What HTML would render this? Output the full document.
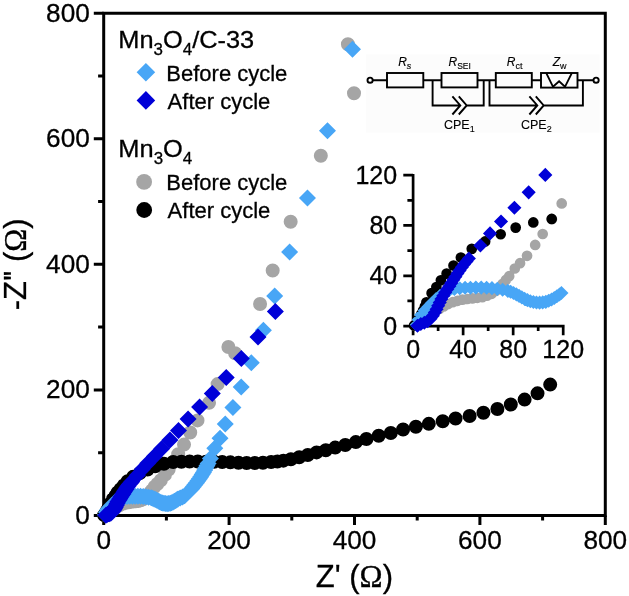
<!DOCTYPE html>
<html><head><meta charset="utf-8"><style>
html,body{margin:0;padding:0;background:#fff;width:629px;height:596px;overflow:hidden}
svg{display:block;will-change:transform}
</style></head><body>
<svg width="629" height="596" viewBox="0 0 629 596"><rect x="366" y="54.5" width="233.5" height="78.2" fill="#fcfcfc"/>
<g stroke="#000" stroke-width="3" fill="none" stroke-linecap="butt">
<path d="M103.7 515.4H605.3V13.3H103.7Z" stroke-linejoin="miter"/>
<path d="M93.8 515.4H103.7M103.7 515.4V525.1M98.1 452.64H103.7M166.4 515.4V520.4M93.8 389.88H103.7M229.1 515.4V525.1M98.1 327.12H103.7M291.8 515.4V520.4M93.8 264.36H103.7M354.5 515.4V525.1M98.1 201.6H103.7M417.2 515.4V520.4M93.8 138.84H103.7M479.9 515.4V525.1M98.1 76.08H103.7M542.6 515.4V520.4M93.8 13.32H103.7M605.3 515.4V525.1"/>
</g>
<g font-family="Liberation Sans, sans-serif" stroke="#000" stroke-width="0.3" font-size="26.2" fill="#000">
<text x="89.8" y="523.9" text-anchor="end">0</text>
<text x="103.7" y="549.1" text-anchor="middle">0</text>
<text x="89.8" y="398.38" text-anchor="end">200</text>
<text x="229.1" y="549.1" text-anchor="middle">200</text>
<text x="89.8" y="272.86" text-anchor="end">400</text>
<text x="354.5" y="549.1" text-anchor="middle">400</text>
<text x="89.8" y="147.34" text-anchor="end">600</text>
<text x="479.9" y="549.1" text-anchor="middle">600</text>
<text x="89.8" y="21.82" text-anchor="end">800</text>
<text x="605.3" y="549.1" text-anchor="middle">800</text>
</g>
<text font-family="Liberation Sans, sans-serif" stroke="#000" stroke-width="0.3" font-size="31" x="354.4" y="586.5" text-anchor="middle">Z' (<tspan font-family="Liberation Serif, serif">&#937;</tspan>)</text>
<text font-family="Liberation Sans, sans-serif" stroke="#000" stroke-width="0.3" font-size="31" transform="translate(25.6 264.3) rotate(-90)" text-anchor="middle">-Z'<tspan dx="-1.5">'</tspan> (<tspan font-family="Liberation Serif, serif">&#937;</tspan>)</text>
<path fill="#a5a5a5" d="M97.33 515.09a7 7 0 1 0 14 0a7 7 0 1 0 -14 0zM99.57 513.96a7 7 0 1 0 14 0a7 7 0 1 0 -14 0zM101.73 512.69a7 7 0 1 0 14 0a7 7 0 1 0 -14 0zM103.8 511.28a7 7 0 1 0 14 0a7 7 0 1 0 -14 0zM105.76 509.71a7 7 0 1 0 14 0a7 7 0 1 0 -14 0zM107.8 508.25a7 7 0 1 0 14 0a7 7 0 1 0 -14 0zM109.88 506.86a7 7 0 1 0 14 0a7 7 0 1 0 -14 0zM112.04 505.58a7 7 0 1 0 14 0a7 7 0 1 0 -14 0zM114.24 504.39a7 7 0 1 0 14 0a7 7 0 1 0 -14 0zM116.58 503.48a7 7 0 1 0 14 0a7 7 0 1 0 -14 0zM118.98 502.77a7 7 0 1 0 14 0a7 7 0 1 0 -14 0zM121.42 502.19a7 7 0 1 0 14 0a7 7 0 1 0 -14 0zM123.91 501.88a7 7 0 1 0 14 0a7 7 0 1 0 -14 0zM126.4 501.57a7 7 0 1 0 14 0a7 7 0 1 0 -14 0zM128.89 501.29a7 7 0 1 0 14 0a7 7 0 1 0 -14 0zM131.38 501.01a7 7 0 1 0 14 0a7 7 0 1 0 -14 0zM133.76 500.23a7 7 0 1 0 14 0a7 7 0 1 0 -14 0zM136.08 499.28a7 7 0 1 0 14 0a7 7 0 1 0 -14 0zM138.14 497.93a7 7 0 1 0 14 0a7 7 0 1 0 -14 0zM139.95 496.19a7 7 0 1 0 14 0a7 7 0 1 0 -14 0zM141.6 494.3a7 7 0 1 0 14 0a7 7 0 1 0 -14 0zM143.21 492.38a7 7 0 1 0 14 0a7 7 0 1 0 -14 0zM144.86 490.49a7 7 0 1 0 14 0a7 7 0 1 0 -14 0zM147.68 486.66a7 7 0 1 0 14 0a7 7 0 1 0 -14 0zM150.31 484.02a7 7 0 1 0 14 0a7 7 0 1 0 -14 0zM153.82 480.32a7 7 0 1 0 14 0a7 7 0 1 0 -14 0zM157.9 474.92a7 7 0 1 0 14 0a7 7 0 1 0 -14 0zM161.66 469.46a7 7 0 1 0 14 0a7 7 0 1 0 -14 0zM166.3 462.05a7 7 0 1 0 14 0a7 7 0 1 0 -14 0zM171.19 454.21a7 7 0 1 0 14 0a7 7 0 1 0 -14 0zM177.02 444.61a7 7 0 1 0 14 0a7 7 0 1 0 -14 0zM183.23 432.49a7 7 0 1 0 14 0a7 7 0 1 0 -14 0zM190.5 420.38a7 7 0 1 0 14 0a7 7 0 1 0 -14 0zM202.04 402.87a7 7 0 1 0 14 0a7 7 0 1 0 -14 0zM210.63 384.11a7 7 0 1 0 14 0a7 7 0 1 0 -14 0zM228.12 353.23a7 7 0 1 0 14 0a7 7 0 1 0 -14 0zM221.41 347.01a7 7 0 1 0 14 0a7 7 0 1 0 -14 0zM253.07 304.02a7 7 0 1 0 14 0a7 7 0 1 0 -14 0zM265.68 270.51a7 7 0 1 0 14 0a7 7 0 1 0 -14 0zM283.67 221.81a7 7 0 1 0 14 0a7 7 0 1 0 -14 0zM313.83 155.79a7 7 0 1 0 14 0a7 7 0 1 0 -14 0zM347 93.21a7 7 0 1 0 14 0a7 7 0 1 0 -14 0zM340.92 44.2a7 7 0 1 0 14 0a7 7 0 1 0 -14 0z"/>
<path fill="#000000" d="M97.2 515.09a7 7 0 1 0 14 0a7 7 0 1 0 -14 0zM98.63 513.42a7 7 0 1 0 14 0a7 7 0 1 0 -14 0zM99.7 511.5a7 7 0 1 0 14 0a7 7 0 1 0 -14 0zM100.72 509.56a7 7 0 1 0 14 0a7 7 0 1 0 -14 0zM101.7 507.59a7 7 0 1 0 14 0a7 7 0 1 0 -14 0zM102.59 505.59a7 7 0 1 0 14 0a7 7 0 1 0 -14 0zM103.36 503.53a7 7 0 1 0 14 0a7 7 0 1 0 -14 0zM105.98 498.96a7 7 0 1 0 14 0a7 7 0 1 0 -14 0zM108.36 495.88a7 7 0 1 0 14 0a7 7 0 1 0 -14 0zM110.62 492.56a7 7 0 1 0 14 0a7 7 0 1 0 -14 0zM113.5 489.23a7 7 0 1 0 14 0a7 7 0 1 0 -14 0zM116.95 485.21a7 7 0 1 0 14 0a7 7 0 1 0 -14 0zM120.65 481.2a7 7 0 1 0 14 0a7 7 0 1 0 -14 0zM126.11 476.87a7 7 0 1 0 14 0a7 7 0 1 0 -14 0zM132.82 473.16a7 7 0 1 0 14 0a7 7 0 1 0 -14 0zM140.59 469.59a7 7 0 1 0 14 0a7 7 0 1 0 -14 0zM148.11 466.26a7 7 0 1 0 14 0a7 7 0 1 0 -14 0zM156.95 463.69a7 7 0 1 0 14 0a7 7 0 1 0 -14 0zM166.17 461.93a7 7 0 1 0 14 0a7 7 0 1 0 -14 0zM174.45 461.74a7 7 0 1 0 14 0a7 7 0 1 0 -14 0zM182.6 461.43a7 7 0 1 0 14 0a7 7 0 1 0 -14 0zM190.75 461.43a7 7 0 1 0 14 0a7 7 0 1 0 -14 0zM198.9 461.74a7 7 0 1 0 14 0a7 7 0 1 0 -14 0zM207.05 461.74a7 7 0 1 0 14 0a7 7 0 1 0 -14 0zM215.2 462.05a7 7 0 1 0 14 0a7 7 0 1 0 -14 0zM223.35 462.37a7 7 0 1 0 14 0a7 7 0 1 0 -14 0zM231.5 462.68a7 7 0 1 0 14 0a7 7 0 1 0 -14 0zM239.66 463a7 7 0 1 0 14 0a7 7 0 1 0 -14 0zM247.81 463a7 7 0 1 0 14 0a7 7 0 1 0 -14 0zM255.96 462.68a7 7 0 1 0 14 0a7 7 0 1 0 -14 0zM264.11 462.05a7 7 0 1 0 14 0a7 7 0 1 0 -14 0zM270.38 461.43a7 7 0 1 0 14 0a7 7 0 1 0 -14 0zM276.4 460.67a7 7 0 1 0 14 0a7 7 0 1 0 -14 0zM283.92 459.29a7 7 0 1 0 14 0a7 7 0 1 0 -14 0zM292.2 457.28a7 7 0 1 0 14 0a7 7 0 1 0 -14 0zM300.79 455.02a7 7 0 1 0 14 0a7 7 0 1 0 -14 0zM309.63 452.39a7 7 0 1 0 14 0a7 7 0 1 0 -14 0zM318.78 450.19a7 7 0 1 0 14 0a7 7 0 1 0 -14 0zM328.19 447.62a7 7 0 1 0 14 0a7 7 0 1 0 -14 0zM338.28 444.98a7 7 0 1 0 14 0a7 7 0 1 0 -14 0zM348.82 442.1a7 7 0 1 0 14 0a7 7 0 1 0 -14 0zM359.41 439.02a7 7 0 1 0 14 0a7 7 0 1 0 -14 0zM371.7 435.82a7 7 0 1 0 14 0a7 7 0 1 0 -14 0zM383.8 433a7 7 0 1 0 14 0a7 7 0 1 0 -14 0zM396.09 429.48a7 7 0 1 0 14 0a7 7 0 1 0 -14 0zM408.88 426.72a7 7 0 1 0 14 0a7 7 0 1 0 -14 0zM421.8 423.83a7 7 0 1 0 14 0a7 7 0 1 0 -14 0zM435.72 421.2a7 7 0 1 0 14 0a7 7 0 1 0 -14 0zM448.57 418.5a7 7 0 1 0 14 0a7 7 0 1 0 -14 0zM462.62 415.93a7 7 0 1 0 14 0a7 7 0 1 0 -14 0zM476.41 412.72a7 7 0 1 0 14 0a7 7 0 1 0 -14 0zM490.39 409.02a7 7 0 1 0 14 0a7 7 0 1 0 -14 0zM503.81 404.5a7 7 0 1 0 14 0a7 7 0 1 0 -14 0zM517.61 399.61a7 7 0 1 0 14 0a7 7 0 1 0 -14 0zM530.52 393.33a7 7 0 1 0 14 0a7 7 0 1 0 -14 0zM543.19 384.61a7 7 0 1 0 14 0a7 7 0 1 0 -14 0z"/>
<path fill="#48a6f6" d="M97.08 514.77l8.5 -8.5l8.5 8.5l-8.5 8.5zM97.99 512.23l8.5 -8.5l8.5 8.5l-8.5 8.5zM99.19 509.82l8.5 -8.5l8.5 8.5l-8.5 8.5zM100.97 507.79l8.5 -8.5l8.5 8.5l-8.5 8.5zM102.81 505.82l8.5 -8.5l8.5 8.5l-8.5 8.5zM104.69 503.89l8.5 -8.5l8.5 8.5l-8.5 8.5zM106.63 502.02l8.5 -8.5l8.5 8.5l-8.5 8.5zM108.71 500.3l8.5 -8.5l8.5 8.5l-8.5 8.5zM110.91 498.74l8.5 -8.5l8.5 8.5l-8.5 8.5zM113.3 497.51l8.5 -8.5l8.5 8.5l-8.5 8.5zM115.9 496.83l8.5 -8.5l8.5 8.5l-8.5 8.5zM118.57 496.5l8.5 -8.5l8.5 8.5l-8.5 8.5zM121.26 496.28l8.5 -8.5l8.5 8.5l-8.5 8.5zM123.95 496.26l8.5 -8.5l8.5 8.5l-8.5 8.5zM126.65 496.2l8.5 -8.5l8.5 8.5l-8.5 8.5zM129.35 496.2l8.5 -8.5l8.5 8.5l-8.5 8.5zM132.04 496.28l8.5 -8.5l8.5 8.5l-8.5 8.5zM134.73 496.47l8.5 -8.5l8.5 8.5l-8.5 8.5zM137.4 496.82l8.5 -8.5l8.5 8.5l-8.5 8.5zM140.06 497.24l8.5 -8.5l8.5 8.5l-8.5 8.5zM142.69 497.84l8.5 -8.5l8.5 8.5l-8.5 8.5zM144.11 498.27l8.5 -8.5l8.5 8.5l-8.5 8.5zM145.54 498.91l8.5 -8.5l8.5 8.5l-8.5 8.5zM146.95 499.58l8.5 -8.5l8.5 8.5l-8.5 8.5zM148.32 500.34l8.5 -8.5l8.5 8.5l-8.5 8.5zM149.7 501.08l8.5 -8.5l8.5 8.5l-8.5 8.5zM151.09 501.81l8.5 -8.5l8.5 8.5l-8.5 8.5zM152.52 502.45l8.5 -8.5l8.5 8.5l-8.5 8.5zM153.98 503.03l8.5 -8.5l8.5 8.5l-8.5 8.5zM155.5 503.37l8.5 -8.5l8.5 8.5l-8.5 8.5zM157.05 503.62l8.5 -8.5l8.5 8.5l-8.5 8.5zM158.61 503.7l8.5 -8.5l8.5 8.5l-8.5 8.5zM160.17 503.57l8.5 -8.5l8.5 8.5l-8.5 8.5zM161.72 503.33l8.5 -8.5l8.5 8.5l-8.5 8.5zM163.17 502.75l8.5 -8.5l8.5 8.5l-8.5 8.5zM164.6 502.11l8.5 -8.5l8.5 8.5l-8.5 8.5zM165.98 501.35l8.5 -8.5l8.5 8.5l-8.5 8.5zM167.3 500.52l8.5 -8.5l8.5 8.5l-8.5 8.5zM168.57 499.6l8.5 -8.5l8.5 8.5l-8.5 8.5zM169.56 498.89l8.5 -8.5l8.5 8.5l-8.5 8.5zM171.69 497.95l8.5 -8.5l8.5 8.5l-8.5 8.5zM174.02 497.02l8.5 -8.5l8.5 8.5l-8.5 8.5zM176.14 495.77l8.5 -8.5l8.5 8.5l-8.5 8.5zM177.93 494.01l8.5 -8.5l8.5 8.5l-8.5 8.5zM179.72 492.25l8.5 -8.5l8.5 8.5l-8.5 8.5zM181.51 490.49l8.5 -8.5l8.5 8.5l-8.5 8.5zM183.2 488.64l8.5 -8.5l8.5 8.5l-8.5 8.5zM184.79 486.7l8.5 -8.5l8.5 8.5l-8.5 8.5zM186.38 484.76l8.5 -8.5l8.5 8.5l-8.5 8.5zM187.97 482.81l8.5 -8.5l8.5 8.5l-8.5 8.5zM189.45 480.79l8.5 -8.5l8.5 8.5l-8.5 8.5zM190.85 478.71l8.5 -8.5l8.5 8.5l-8.5 8.5zM192.26 476.63l8.5 -8.5l8.5 8.5l-8.5 8.5zM193.66 474.55l8.5 -8.5l8.5 8.5l-8.5 8.5zM194.94 472.39l8.5 -8.5l8.5 8.5l-8.5 8.5zM196.11 470.17l8.5 -8.5l8.5 8.5l-8.5 8.5zM197.28 467.95l8.5 -8.5l8.5 8.5l-8.5 8.5zM198.45 465.73l8.5 -8.5l8.5 8.5l-8.5 8.5zM199.62 463.51l8.5 -8.5l8.5 8.5l-8.5 8.5zM201.92 458.41l8.5 -8.5l8.5 8.5l-8.5 8.5zM206.3 448.31l8.5 -8.5l8.5 8.5l-8.5 8.5zM211.51 438.21l8.5 -8.5l8.5 8.5l-8.5 8.5zM216.78 424.02l8.5 -8.5l8.5 8.5l-8.5 8.5zM224.42 407.52l8.5 -8.5l8.5 8.5l-8.5 8.5zM232.7 386.99l8.5 -8.5l8.5 8.5l-8.5 8.5zM242.8 362.7l8.5 -8.5l8.5 8.5l-8.5 8.5zM254.9 330.2l8.5 -8.5l8.5 8.5l-8.5 8.5zM266.18 295.99l8.5 -8.5l8.5 8.5l-8.5 8.5zM281.11 252l8.5 -8.5l8.5 8.5l-8.5 8.5zM298.98 197.9l8.5 -8.5l8.5 8.5l-8.5 8.5zM318.98 130.68l8.5 -8.5l8.5 8.5l-8.5 8.5zM343.99 49.28l8.5 -8.5l8.5 8.5l-8.5 8.5z"/>
<path fill="#0000d8" d="M97.39 515.21l8.5 -8.5l8.5 8.5l-8.5 8.5zM99.06 514.36l8.5 -8.5l8.5 8.5l-8.5 8.5zM100.83 513.73l8.5 -8.5l8.5 8.5l-8.5 8.5zM102.5 512.9l8.5 -8.5l8.5 8.5l-8.5 8.5zM103.92 511.7l8.5 -8.5l8.5 8.5l-8.5 8.5zM105.09 510.23l8.5 -8.5l8.5 8.5l-8.5 8.5zM106.09 508.63l8.5 -8.5l8.5 8.5l-8.5 8.5zM106.97 506.97l8.5 -8.5l8.5 8.5l-8.5 8.5zM107.76 505.26l8.5 -8.5l8.5 8.5l-8.5 8.5zM108.57 503.57l8.5 -8.5l8.5 8.5l-8.5 8.5zM109.39 501.87l8.5 -8.5l8.5 8.5l-8.5 8.5zM110.33 500.24l8.5 -8.5l8.5 8.5l-8.5 8.5zM111.3 498.63l8.5 -8.5l8.5 8.5l-8.5 8.5zM112.33 497.05l8.5 -8.5l8.5 8.5l-8.5 8.5zM113.37 495.48l8.5 -8.5l8.5 8.5l-8.5 8.5zM114.39 493.9l8.5 -8.5l8.5 8.5l-8.5 8.5zM115.4 492.31l8.5 -8.5l8.5 8.5l-8.5 8.5zM116.42 490.73l8.5 -8.5l8.5 8.5l-8.5 8.5zM117.43 489.14l8.5 -8.5l8.5 8.5l-8.5 8.5zM118.51 487.6l8.5 -8.5l8.5 8.5l-8.5 8.5zM119.65 486.1l8.5 -8.5l8.5 8.5l-8.5 8.5zM120.78 484.6l8.5 -8.5l8.5 8.5l-8.5 8.5zM121.96 483.13l8.5 -8.5l8.5 8.5l-8.5 8.5zM123.16 481.69l8.5 -8.5l8.5 8.5l-8.5 8.5zM128.93 475.17l8.5 -8.5l8.5 8.5l-8.5 8.5zM133.76 469.15l8.5 -8.5l8.5 8.5l-8.5 8.5zM139.28 463.18l8.5 -8.5l8.5 8.5l-8.5 8.5zM145.99 456.34l8.5 -8.5l8.5 8.5l-8.5 8.5zM153.13 448.69l8.5 -8.5l8.5 8.5l-8.5 8.5zM161.47 439.96l8.5 -8.5l8.5 8.5l-8.5 8.5zM170 430.42l8.5 -8.5l8.5 8.5l-8.5 8.5zM179.59 419l8.5 -8.5l8.5 8.5l-8.5 8.5zM191.07 406.89l8.5 -8.5l8.5 8.5l-8.5 8.5zM203.8 393.52l8.5 -8.5l8.5 8.5l-8.5 8.5zM217.72 377.39l8.5 -8.5l8.5 8.5l-8.5 8.5zM232.83 358.5l8.5 -8.5l8.5 8.5l-8.5 8.5zM249.5 336.97l8.5 -8.5l8.5 8.5l-8.5 8.5zM266.87 311.49l8.5 -8.5l8.5 8.5l-8.5 8.5z"/>
<text font-family="Liberation Sans, sans-serif" stroke="#000" stroke-width="0.3" font-size="24" transform="translate(118.3 47.9) scale(1.058 1)">Mn<tspan font-size="16" dy="6.7">3</tspan><tspan dy="-6.7">O</tspan><tspan font-size="16" dy="6.7">4</tspan><tspan dy="-6.7">/C-33</tspan></text>
<path fill="#48a6f6" d="M136.6 72.3l9.3 -9.3l9.3 9.3l-9.3 9.3z"/>
<path fill="#0000d8" d="M136.6 100.4l9.3 -9.3l9.3 9.3l-9.3 9.3z"/>
<text font-family="Liberation Sans, sans-serif" stroke="#000" stroke-width="0.3" font-size="22" x="166.3" y="81.3">Before cycle</text>
<text font-family="Liberation Sans, sans-serif" stroke="#000" stroke-width="0.3" font-size="22" x="167.6" y="109.1">After cycle</text>
<text font-family="Liberation Sans, sans-serif" stroke="#000" stroke-width="0.3" font-size="24" transform="translate(118.3 157.3) scale(1.06 1)">Mn<tspan font-size="16" dy="6.7">3</tspan><tspan dy="-6.7">O</tspan><tspan font-size="16" dy="6.7">4</tspan></text>
<circle cx="144.1" cy="181.9" r="7.9" fill="#a5a5a5"/>
<circle cx="144.2" cy="210" r="7.9" fill="#000000"/>
<text font-family="Liberation Sans, sans-serif" stroke="#000" stroke-width="0.3" font-size="22" x="166.3" y="190.3">Before cycle</text>
<text font-family="Liberation Sans, sans-serif" stroke="#000" stroke-width="0.3" font-size="22" x="167.6" y="218.3">After cycle</text>
<g stroke="#000" stroke-width="1.9" fill="none">
<circle cx="370.1" cy="80.2" r="2.6" fill="#fff"/>
<circle cx="596.1" cy="80.2" r="2.6" fill="#fff"/>
<path d="M372.7 80.2H387M423.3 80.2H441.5M477.5 80.2H495.8M531.8 80.2H541M577.5 80.2H593.5"/>
<rect x="387" y="73" width="36.3" height="14.4"/>
<rect x="441.5" y="73" width="36" height="14.4"/>
<rect x="495.8" y="73" width="36" height="14.4"/>
<rect x="541" y="73" width="36.5" height="14.6"/>
<path d="M546.3 73.2L553 86.8L559.1 81.2L565 86.8L571.8 73.2"/>
<path d="M432.6 80.2V105.5H460.3M466.7 105.5H483.7V80.2M452.4 96.4L460.3 105.5L452.4 114.5M458.8 96.4L466.7 105.5L458.8 114.5"/>
<path d="M489.5 80.2V105.5H537.3M543.7 105.5H582.9V80.2M529.4 96.4L537.3 105.5L529.4 114.5M535.8 96.4L543.7 105.5L535.8 114.5"/>
</g>
<g font-family="Liberation Sans, sans-serif" stroke="#000" stroke-width="0.12" fill="#000">
<text x="398.2" y="65.8" font-size="12" font-style="italic">R<tspan font-size="9" dy="3">s</tspan></text>
<text x="448.5" y="65.8" font-size="12" font-style="italic">R<tspan font-size="8.5" dy="3" font-style="normal">SEI</tspan></text>
<text x="506.8" y="65.8" font-size="12" font-style="italic">R<tspan font-size="9" dy="3" font-style="normal">ct</tspan></text>
<text x="552.7" y="65.8" font-size="12" font-style="italic">Z<tspan font-size="9" dy="3" font-style="normal">w</tspan></text>
<text x="444" y="128.6" font-size="12.5">CPE<tspan font-size="9" dy="3">1</tspan></text>
<text x="521" y="128.6" font-size="12.5">CPE<tspan font-size="9" dy="3">2</tspan></text>
</g>
<g stroke="#000" stroke-width="2.7" fill="none">
<path d="M413.1 174V326.1H564.6M403.3 326.1H413.1M413.1 326.1V335.2M407.4 300.94H413.1M438.12 326.1V331M403.3 275.78H413.1M463.13 326.1V335.2M407.4 250.62H413.1M488.15 326.1V331M403.3 225.46H413.1M513.16 326.1V335.2M407.4 200.3H413.1M538.18 326.1V331M403.3 175.14H413.1M563.2 326.1V335.2"/>
</g>
<g font-family="Liberation Sans, sans-serif" stroke="#000" stroke-width="0.3" font-size="25" fill="#000">
<text x="397.2" y="334.5" text-anchor="end">0</text>
<text x="413.1" y="358.2" text-anchor="middle">0</text>
<text x="397.2" y="284.18" text-anchor="end">40</text>
<text x="463.13" y="358.2" text-anchor="middle">40</text>
<text x="397.2" y="233.86" text-anchor="end">80</text>
<text x="513.16" y="358.2" text-anchor="middle">80</text>
<text x="397.2" y="183.54" text-anchor="end">120</text>
<text x="563.2" y="358.2" text-anchor="middle">120</text>
</g>
<path fill="#a5a5a5" d="M409 325.47a5.35 5.35 0 1 0 10.7 0a5.35 5.35 0 1 0 -10.7 0zM413.48 323.22a5.35 5.35 0 1 0 10.7 0a5.35 5.35 0 1 0 -10.7 0zM417.79 320.67a5.35 5.35 0 1 0 10.7 0a5.35 5.35 0 1 0 -10.7 0zM421.92 317.85a5.35 5.35 0 1 0 10.7 0a5.35 5.35 0 1 0 -10.7 0zM425.82 314.7a5.35 5.35 0 1 0 10.7 0a5.35 5.35 0 1 0 -10.7 0zM429.89 311.77a5.35 5.35 0 1 0 10.7 0a5.35 5.35 0 1 0 -10.7 0zM434.05 308.98a5.35 5.35 0 1 0 10.7 0a5.35 5.35 0 1 0 -10.7 0zM438.35 306.42a5.35 5.35 0 1 0 10.7 0a5.35 5.35 0 1 0 -10.7 0zM442.74 304.03a5.35 5.35 0 1 0 10.7 0a5.35 5.35 0 1 0 -10.7 0zM447.41 302.2a5.35 5.35 0 1 0 10.7 0a5.35 5.35 0 1 0 -10.7 0zM452.2 300.79a5.35 5.35 0 1 0 10.7 0a5.35 5.35 0 1 0 -10.7 0zM457.06 299.63a5.35 5.35 0 1 0 10.7 0a5.35 5.35 0 1 0 -10.7 0zM462.03 299a5.35 5.35 0 1 0 10.7 0a5.35 5.35 0 1 0 -10.7 0zM466.99 298.37a5.35 5.35 0 1 0 10.7 0a5.35 5.35 0 1 0 -10.7 0zM471.96 297.81a5.35 5.35 0 1 0 10.7 0a5.35 5.35 0 1 0 -10.7 0zM476.93 297.25a5.35 5.35 0 1 0 10.7 0a5.35 5.35 0 1 0 -10.7 0zM481.67 295.69a5.35 5.35 0 1 0 10.7 0a5.35 5.35 0 1 0 -10.7 0zM486.3 293.78a5.35 5.35 0 1 0 10.7 0a5.35 5.35 0 1 0 -10.7 0zM490.42 291.08a5.35 5.35 0 1 0 10.7 0a5.35 5.35 0 1 0 -10.7 0zM494.04 287.6a5.35 5.35 0 1 0 10.7 0a5.35 5.35 0 1 0 -10.7 0zM497.31 283.8a5.35 5.35 0 1 0 10.7 0a5.35 5.35 0 1 0 -10.7 0zM500.54 279.95a5.35 5.35 0 1 0 10.7 0a5.35 5.35 0 1 0 -10.7 0zM503.83 276.16a5.35 5.35 0 1 0 10.7 0a5.35 5.35 0 1 0 -10.7 0zM509.44 268.48a5.35 5.35 0 1 0 10.7 0a5.35 5.35 0 1 0 -10.7 0zM514.69 263.2a5.35 5.35 0 1 0 10.7 0a5.35 5.35 0 1 0 -10.7 0zM521.7 255.78a5.35 5.35 0 1 0 10.7 0a5.35 5.35 0 1 0 -10.7 0zM529.83 244.96a5.35 5.35 0 1 0 10.7 0a5.35 5.35 0 1 0 -10.7 0zM537.33 234.01a5.35 5.35 0 1 0 10.7 0a5.35 5.35 0 1 0 -10.7 0zM546.59 219.17a5.35 5.35 0 1 0 10.7 0a5.35 5.35 0 1 0 -10.7 0zM556.35 203.45a5.35 5.35 0 1 0 10.7 0a5.35 5.35 0 1 0 -10.7 0z"/>
<path fill="#000000" d="M408.75 325.47a5.35 5.35 0 1 0 10.7 0a5.35 5.35 0 1 0 -10.7 0zM411.61 322.14a5.35 5.35 0 1 0 10.7 0a5.35 5.35 0 1 0 -10.7 0zM413.73 318.29a5.35 5.35 0 1 0 10.7 0a5.35 5.35 0 1 0 -10.7 0zM415.76 314.39a5.35 5.35 0 1 0 10.7 0a5.35 5.35 0 1 0 -10.7 0zM417.72 310.45a5.35 5.35 0 1 0 10.7 0a5.35 5.35 0 1 0 -10.7 0zM419.5 306.43a5.35 5.35 0 1 0 10.7 0a5.35 5.35 0 1 0 -10.7 0zM421.03 302.31a5.35 5.35 0 1 0 10.7 0a5.35 5.35 0 1 0 -10.7 0zM426.26 293.14a5.35 5.35 0 1 0 10.7 0a5.35 5.35 0 1 0 -10.7 0zM431.01 286.98a5.35 5.35 0 1 0 10.7 0a5.35 5.35 0 1 0 -10.7 0zM435.52 280.31a5.35 5.35 0 1 0 10.7 0a5.35 5.35 0 1 0 -10.7 0zM441.27 273.64a5.35 5.35 0 1 0 10.7 0a5.35 5.35 0 1 0 -10.7 0zM448.15 265.59a5.35 5.35 0 1 0 10.7 0a5.35 5.35 0 1 0 -10.7 0zM455.53 257.54a5.35 5.35 0 1 0 10.7 0a5.35 5.35 0 1 0 -10.7 0zM466.41 248.86a5.35 5.35 0 1 0 10.7 0a5.35 5.35 0 1 0 -10.7 0zM479.8 241.44a5.35 5.35 0 1 0 10.7 0a5.35 5.35 0 1 0 -10.7 0zM495.31 234.27a5.35 5.35 0 1 0 10.7 0a5.35 5.35 0 1 0 -10.7 0zM510.32 227.6a5.35 5.35 0 1 0 10.7 0a5.35 5.35 0 1 0 -10.7 0zM527.95 222.44a5.35 5.35 0 1 0 10.7 0a5.35 5.35 0 1 0 -10.7 0zM546.34 218.92a5.35 5.35 0 1 0 10.7 0a5.35 5.35 0 1 0 -10.7 0z"/>
<path fill="#48a6f6" d="M409.8 324.84l7.05 -7.05l7.05 7.05l-7.05 7.05zM411.61 319.75l7.05 -7.05l7.05 7.05l-7.05 7.05zM414.01 314.92l7.05 -7.05l7.05 7.05l-7.05 7.05zM417.56 310.86l7.05 -7.05l7.05 7.05l-7.05 7.05zM421.23 306.9l7.05 -7.05l7.05 7.05l-7.05 7.05zM424.99 303.03l7.05 -7.05l7.05 7.05l-7.05 7.05zM428.86 299.28l7.05 -7.05l7.05 7.05l-7.05 7.05zM433 295.84l7.05 -7.05l7.05 7.05l-7.05 7.05zM437.38 292.7l7.05 -7.05l7.05 7.05l-7.05 7.05zM442.15 290.24l7.05 -7.05l7.05 7.05l-7.05 7.05zM447.34 288.88l7.05 -7.05l7.05 7.05l-7.05 7.05zM452.67 288.21l7.05 -7.05l7.05 7.05l-7.05 7.05zM458.03 287.77l7.05 -7.05l7.05 7.05l-7.05 7.05zM463.41 287.73l7.05 -7.05l7.05 7.05l-7.05 7.05zM468.79 287.61l7.05 -7.05l7.05 7.05l-7.05 7.05zM474.17 287.62l7.05 -7.05l7.05 7.05l-7.05 7.05zM479.54 287.78l7.05 -7.05l7.05 7.05l-7.05 7.05zM484.91 288.15l7.05 -7.05l7.05 7.05l-7.05 7.05zM490.24 288.86l7.05 -7.05l7.05 7.05l-7.05 7.05zM495.55 289.71l7.05 -7.05l7.05 7.05l-7.05 7.05zM500.78 290.9l7.05 -7.05l7.05 7.05l-7.05 7.05zM503.61 291.76l7.05 -7.05l7.05 7.05l-7.05 7.05zM506.46 293.05l7.05 -7.05l7.05 7.05l-7.05 7.05zM509.29 294.39l7.05 -7.05l7.05 7.05l-7.05 7.05zM512.03 295.91l7.05 -7.05l7.05 7.05l-7.05 7.05zM514.78 297.4l7.05 -7.05l7.05 7.05l-7.05 7.05zM517.55 298.86l7.05 -7.05l7.05 7.05l-7.05 7.05zM520.4 300.15l7.05 -7.05l7.05 7.05l-7.05 7.05zM523.3 301.31l7.05 -7.05l7.05 7.05l-7.05 7.05zM526.35 301.99l7.05 -7.05l7.05 7.05l-7.05 7.05zM529.43 302.49l7.05 -7.05l7.05 7.05l-7.05 7.05zM532.56 302.65l7.05 -7.05l7.05 7.05l-7.05 7.05zM535.66 302.4l7.05 -7.05l7.05 7.05l-7.05 7.05zM538.74 301.9l7.05 -7.05l7.05 7.05l-7.05 7.05zM541.65 300.73l7.05 -7.05l7.05 7.05l-7.05 7.05zM544.5 299.46l7.05 -7.05l7.05 7.05l-7.05 7.05zM547.24 297.94l7.05 -7.05l7.05 7.05l-7.05 7.05zM549.88 296.27l7.05 -7.05l7.05 7.05l-7.05 7.05zM552.42 294.43l7.05 -7.05l7.05 7.05l-7.05 7.05zM554.39 293.01l7.05 -7.05l7.05 7.05l-7.05 7.05z"/>
<path fill="#0000d8" d="M410.43 325.72l7.05 -7.05l7.05 7.05l-7.05 7.05zM413.75 324.01l7.05 -7.05l7.05 7.05l-7.05 7.05zM417.28 322.75l7.05 -7.05l7.05 7.05l-7.05 7.05zM420.62 321.08l7.05 -7.05l7.05 7.05l-7.05 7.05zM423.45 318.68l7.05 -7.05l7.05 7.05l-7.05 7.05zM425.78 315.73l7.05 -7.05l7.05 7.05l-7.05 7.05zM427.77 312.53l7.05 -7.05l7.05 7.05l-7.05 7.05zM429.52 309.2l7.05 -7.05l7.05 7.05l-7.05 7.05zM431.11 305.78l7.05 -7.05l7.05 7.05l-7.05 7.05zM432.73 302.38l7.05 -7.05l7.05 7.05l-7.05 7.05zM434.36 298.98l7.05 -7.05l7.05 7.05l-7.05 7.05zM436.24 295.71l7.05 -7.05l7.05 7.05l-7.05 7.05zM438.17 292.48l7.05 -7.05l7.05 7.05l-7.05 7.05zM440.23 289.32l7.05 -7.05l7.05 7.05l-7.05 7.05zM442.29 286.17l7.05 -7.05l7.05 7.05l-7.05 7.05zM444.33 283l7.05 -7.05l7.05 7.05l-7.05 7.05zM446.35 279.82l7.05 -7.05l7.05 7.05l-7.05 7.05zM448.38 276.64l7.05 -7.05l7.05 7.05l-7.05 7.05zM450.4 273.47l7.05 -7.05l7.05 7.05l-7.05 7.05zM452.55 270.38l7.05 -7.05l7.05 7.05l-7.05 7.05zM454.82 267.37l7.05 -7.05l7.05 7.05l-7.05 7.05zM457.08 264.36l7.05 -7.05l7.05 7.05l-7.05 7.05zM459.43 261.42l7.05 -7.05l7.05 7.05l-7.05 7.05zM461.84 258.52l7.05 -7.05l7.05 7.05l-7.05 7.05zM473.34 245.46l7.05 -7.05l7.05 7.05l-7.05 7.05zM482.97 233.39l7.05 -7.05l7.05 7.05l-7.05 7.05zM493.98 221.43l7.05 -7.05l7.05 7.05l-7.05 7.05zM507.36 207.72l7.05 -7.05l7.05 7.05l-7.05 7.05zM521.62 192.37l7.05 -7.05l7.05 7.05l-7.05 7.05zM538.26 174.89l7.05 -7.05l7.05 7.05l-7.05 7.05z"/></svg>
</body></html>
